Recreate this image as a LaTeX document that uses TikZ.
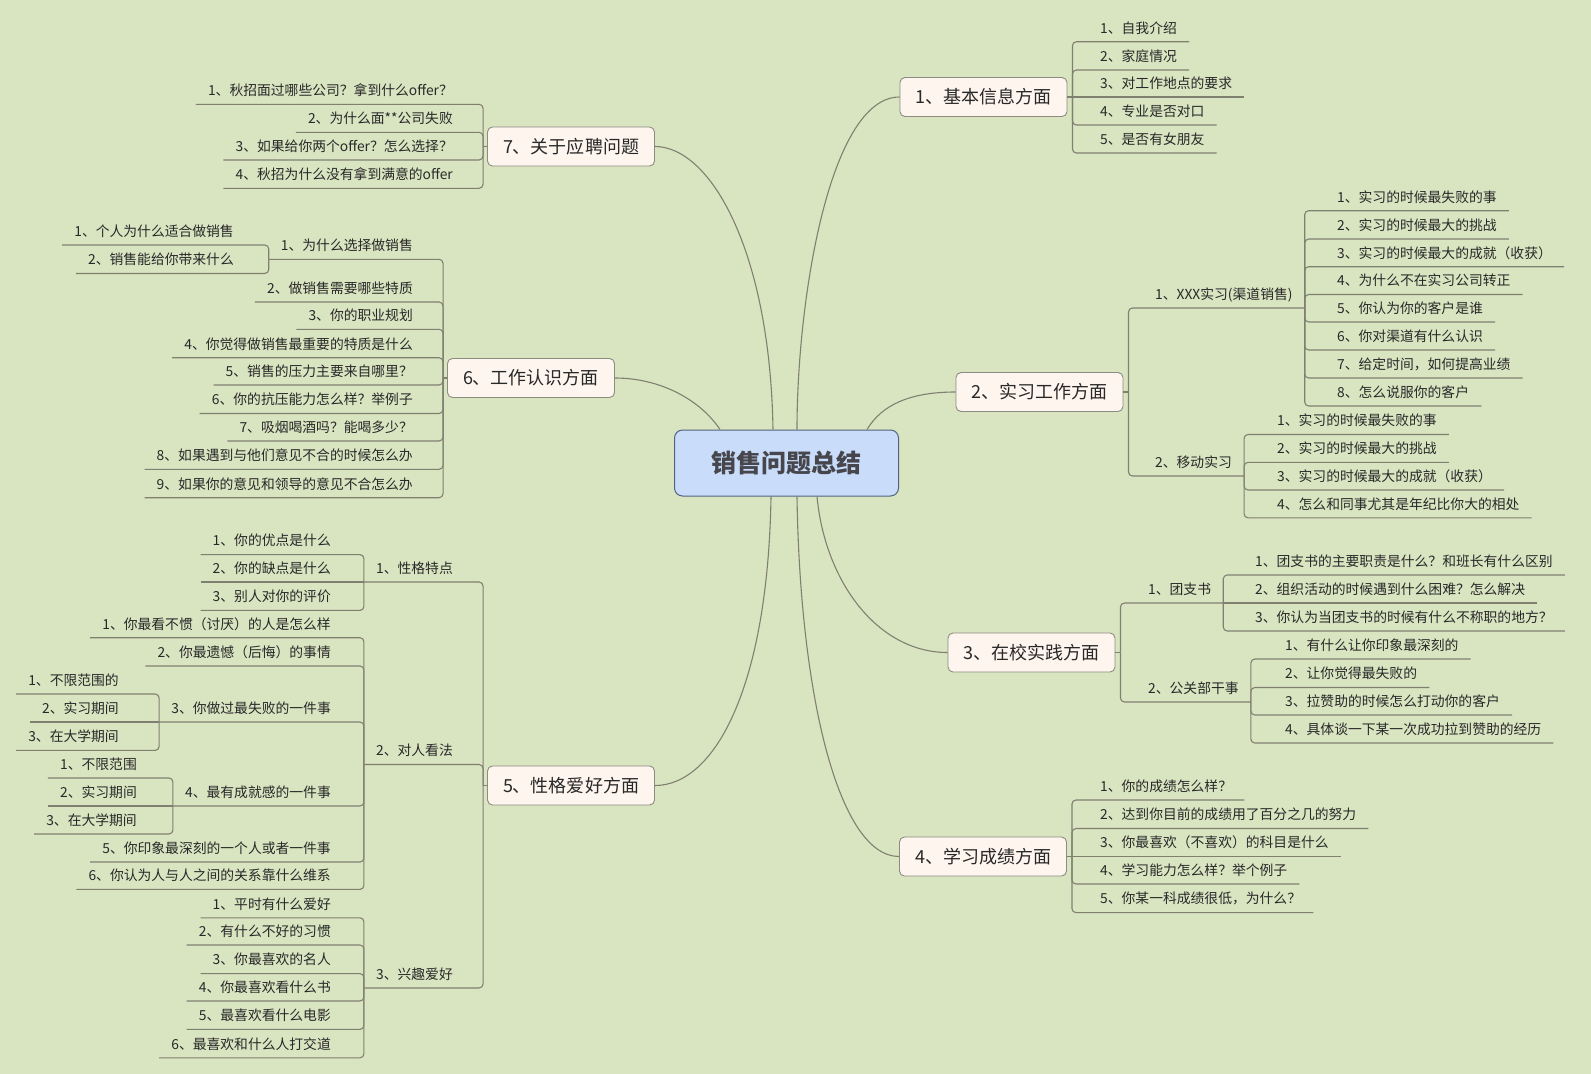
\documentclass[tikz,border=0pt]{standalone}
\usepackage{fontspec}
\setmainfont{Noto Sans CJK SC}
\usepackage{tikz}
\usetikzlibrary{calc}

\definecolor{fond}{RGB}{217,228,193}
\definecolor{boite}{RGB}{253,245,238}
\definecolor{cadre}{RGB}{140,140,128}
\definecolor{trait}{RGB}{128,128,112}
\definecolor{bleu}{RGB}{201,220,250}
\definecolor{bleufonce}{RGB}{80,100,130}
\definecolor{texte}{RGB}{40,40,40}
\definecolor{titre}{RGB}{70,70,76}

\begin{document}
\begin{tikzpicture}[x=1pt,y=-1pt,
  racine/.style={draw=bleufonce,fill=bleu,rounded corners=8pt,line width=1pt,
    minimum width=224pt,minimum height=66pt,text=titre,
    font=\fontsize{25}{28}\selectfont\bfseries},
  branche/.style={draw=cadre,fill=boite,rounded corners=5pt,line width=0.9pt,
    minimum width=167pt,minimum height=39pt,inner xsep=10pt,text=texte,
    font=\fontsize{18}{20}\selectfont},
  leaf/.style={anchor=south west,inner xsep=12pt,inner ysep=5.5pt,
    text height=10pt,text depth=3pt,text=texte,font=\fontsize{13.8}{16}\selectfont},
  leafg/.style={leaf,anchor=south east},
  lien/.style={draw=trait,line width=1.1pt,rounded corners=4pt},
  courbe/.style={draw=trait,line width=1.1pt}]
\fill[fond] (0,0) rectangle (1591,1074);
\useasboundingbox (0,0) rectangle (1591,1074);

% sujet central et branches
\node[racine] (centre) at (786.5,463) {销售问题总结};
\node[branche] (br1) at (983.5,97) {1、基本信息方面};
\node[branche] (br2) at (1039.5,392) {2、实习工作方面};
\node[branche] (br3) at (1031.5,652.5) {3、在校实践方面};
\node[branche] (br4) at (983,856.5) {4、学习成绩方面};
\node[branche] (br5) at (571,785.5) {5、性格爱好方面};
\node[branche] (br6) at (531,378) {6、工作认识方面};
\node[branche] (br7) at (571,146.5) {7、关于应聘问题};

\draw[courbe] ($(centre.north)+(10.5,0)$) .. controls +(0,-130) and +(-70,0) .. (br1.west);
\draw[courbe] ($(centre.north)+(80.5,0)$) .. controls +(15,-25) and +(-45,0) .. (br2.west);
\draw[courbe] ($(centre.south)+(30.5,0)$) .. controls +(8,85) and +(-70,0) .. (br3.west);
\draw[courbe] ($(centre.south)+(10.5,0)$) .. controls +(3,200) and +(-60,0) .. (br4.west);
\draw[courbe] ($(centre.south)+(-15.5,0)$) .. controls +(-3,190) and +(60,0) .. (br5.east);
\draw[courbe] ($(centre.north)+(-66.5,0)$) .. controls +(-20,-30) and +(45,0) .. (br6.east);
\draw[courbe] ($(centre.north)+(-13.5,0)$) .. controls +(-3,-180) and +(55,0) .. (br7.east);

% 1 - informations de base
\coordinate (k1) at ($(br1.east)+(5,0)$);
\node[leaf] (q11) at (1088,41.7) {1、自我介绍};
\node[leaf] (q12) at (1088,70) {2、家庭情况};
\node[leaf] (q13) at (1088,97) {3、对工作地点的要求};
\node[leaf] (q14) at (1088,125) {4、专业是否对口};
\node[leaf] (q15) at (1088,153) {5、是否有女朋友};
\draw[lien] (br1.east) -- (k1);
\draw[lien] (k1) |- (q11.south east);
\draw[lien] (k1) |- (q12.south east);
\draw[lien] (k1) -- (q13.south east);
\draw[lien] (k1) |- (q14.south east);
\draw[lien] (k1) |- (q15.south east);

% 2 - stages
\coordinate (k2) at ($(br2.east)+(5,0)$);
\node[leaf] (s21) at (1143,308) {1、XXX实习(渠道销售)};
\node[leaf] (s22) at (1143,476) {2、移动实习};
\draw[lien] (br2.east) -- (k2);
\draw[lien] (k2) |- (s21.south east);
\draw[lien] (k2) |- (s22.south east);
\node[leaf] (q211) at (1325,210.7) {1、实习的时候最失败的事};
\node[leaf] (q212) at (1325,239) {2、实习的时候最大的挑战};
\node[leaf] (q213) at (1325,266.7) {3、实习的时候最大的成就（收获）};
\node[leaf] (q214) at (1325,294.5) {4、为什么不在实习公司转正};
\node[leaf] (q215) at (1325,322) {5、你认为你的客户是谁};
\node[leaf] (q216) at (1325,350) {6、你对渠道有什么认识};
\node[leaf] (q217) at (1325,378) {7、给定时间，如何提高业绩};
\node[leaf] (q218) at (1325,406) {8、怎么说服你的客户};
\foreach \i in {1,...,8}
  \draw[lien] (s21.south east) |- (q21\i.south east);
\node[leaf] (q221) at (1265,434.5) {1、实习的时候最失败的事};
\node[leaf] (q222) at (1265,462.3) {2、实习的时候最大的挑战};
\node[leaf] (q223) at (1265,490) {3、实习的时候最大的成就（收获）};
\node[leaf] (q224) at (1265,517.8) {4、怎么和同事尤其是年纪比你大的相处};
\foreach \i in {1,...,4}
  \draw[lien] (s22.south east) |- (q22\i.south east);

% 3 - pratique a l'ecole
\coordinate (k3) at ($(br3.east)+(5,0)$);
\node[leaf] (s31) at (1136,603) {1、团支书};
\node[leaf] (s32) at (1136,702) {2、公关部干事};
\draw[lien] (br3.east) -- (k3);
\draw[lien] (k3) |- (s31.south east);
\draw[lien] (k3) |- (s32.south east);
\node[leaf] (q311) at (1243,575) {1、团支书的主要职责是什么？和班长有什么区别};
\node[leaf] (q312) at (1243,603) {2、组织活动的时候遇到什么困难？怎么解决};
\node[leaf] (q313) at (1243,631) {3、你认为当团支书的时候有什么不称职的地方？};
\draw[lien] (s31.south east) |- (q311.south east);
\draw[lien] (s31.south east) -- (q312.south east);
\draw[lien] (s31.south east) |- (q313.south east);
\node[leaf] (q321) at (1273,659) {1、有什么让你印象最深刻的};
\node[leaf] (q322) at (1273,687.5) {2、让你觉得最失败的};
\node[leaf] (q323) at (1273,715) {3、拉赞助的时候怎么打动你的客户};
\node[leaf] (q324) at (1273,743) {4、具体谈一下某一次成功拉到赞助的经历};
\foreach \i in {1,...,4}
  \draw[lien] (s32.south east) |- (q32\i.south east);

% 4 - resultats
\coordinate (k4) at ($(br4.east)+(5,0)$);
\node[leaf] (q41) at (1088,800) {1、你的成绩怎么样？};
\node[leaf] (q42) at (1088,828.5) {2、达到你目前的成绩用了百分之几的努力};
\node[leaf] (q43) at (1088,856.5) {3、你最喜欢（不喜欢）的科目是什么};
\node[leaf] (q44) at (1088,884) {4、学习能力怎么样？举个例子};
\node[leaf] (q45) at (1088,912.6) {5、你某一科成绩很低，为什么？};
\draw[lien] (br4.east) -- (k4);
\draw[lien] (k4) |- (q41.south east);
\draw[lien] (k4) |- (q42.south east);
\draw[lien] (k4) -- (q43.south east);
\draw[lien] (k4) |- (q44.south east);
\draw[lien] (k4) |- (q45.south east);

% 7 - recrutement
\coordinate (k7) at ($(br7.west)+(-4,0)$);
\node[leafg] (q71) at (465,104.3) {1、秋招面过哪些公司？拿到什么offer？};
\node[leafg] (q72) at (465,132.3) {2、为什么面**公司失败};
\node[leafg] (q73) at (465,160) {3、如果给你两个offer？怎么选择？};
\node[leafg] (q74) at (465,188.3) {4、秋招为什么没有拿到满意的offer};
\draw[lien] (br7.west) -- (k7);
\foreach \i in {1,...,4}
  \draw[lien] (k7) |- (q7\i.south west);

% 6 - vision du travail
\coordinate (k6) at ($(br6.west)+(-4,0)$);
\node[leafg] (s61) at (425,259.3) {1、为什么选择做销售};
\node[leafg] (q611) at (246,245) {1、个人为什么适合做销售};
\node[leafg] (q612) at (246,273.5) {2、销售能给你带来什么};
\node[leafg] (q62) at (425,302) {2、做销售需要哪些特质};
\node[leafg] (q63) at (425,329.3) {3、你的职业规划};
\node[leafg] (q64) at (425,357.7) {4、你觉得做销售最重要的特质是什么};
\node[leafg] (q65) at (425,385) {5、销售的压力主要来自哪里？};
\node[leafg] (q66) at (425,413.5) {6、你的抗压能力怎么样？举例子};
\node[leafg] (q67) at (425,441) {7、吸烟喝酒吗？能喝多少？};
\node[leafg] (q68) at (425,469.3) {8、如果遇到与他们意见不合的时候怎么办};
\node[leafg] (q69) at (425,497.7) {9、如果你的意见和领导的意见不合怎么办};
\draw[lien] (br6.west) -- (k6);
\draw[lien] (k6) |- (s61.south west);
\foreach \i in {2,...,9}
  \draw[lien] (k6) |- (q6\i.south west);
\draw[lien] (s61.south west) |- (q611.south west);
\draw[lien] (s61.south west) |- (q612.south west);

% 5 - personnalite et loisirs
\coordinate (k5) at ($(br5.west)+(-4,0)$);
\node[leafg] (s51) at (465,582) {1、性格特点};
\node[leafg] (s52) at (465,764.5) {2、对人看法};
\node[leafg] (s53) at (465,988) {3、兴趣爱好};
\draw[lien] (br5.west) -- (k5);
\draw[lien] (k5) |- (s51.south west);
\draw[lien] (k5) |- (s52.south west);
\draw[lien] (k5) |- (s53.south west);

\node[leafg] (q511) at (343,554.6) {1、你的优点是什么};
\node[leafg] (q512) at (343,582) {2、你的缺点是什么};
\node[leafg] (q513) at (343,610.4) {3、别人对你的评价};
\draw[lien] (s51.south west) |- (q511.south west);
\draw[lien] (s51.south west) -- (q512.south west);
\draw[lien] (s51.south west) |- (q513.south west);

\node[leafg] (q521) at (343,637.7) {1、你最看不惯（讨厌）的人是怎么样};
\node[leafg] (q522) at (343,666) {2、你最遗憾（后悔）的事情};
\node[leafg] (q523) at (343,722) {3、你做过最失败的一件事};
\node[leafg] (q524) at (343,806) {4、最有成就感的一件事};
\node[leafg] (q525) at (343,862) {5、你印象最深刻的一个人或者一件事};
\node[leafg] (q526) at (343,889.4) {6、你认为人与人之间的关系靠什么维系};
\foreach \i in {1,...,6}
  \draw[lien] (s52.south west) |- (q52\i.south west);

\node[leafg] (q5231) at (131,694) {1、不限范围的};
\node[leafg] (q5232) at (131,722) {2、实习期间};
\node[leafg] (q5233) at (131,750.4) {3、在大学期间};
\draw[lien] (q523.south west) |- (q5231.south west);
\draw[lien] (q523.south west) -- (q5232.south west);
\draw[lien] (q523.south west) |- (q5233.south west);

\node[leafg] (q5241) at (149,778) {1、不限范围};
\node[leafg] (q5242) at (149,806) {2、实习期间};
\node[leafg] (q5243) at (149,834) {3、在大学期间};
\draw[lien] (q524.south west) |- (q5241.south west);
\draw[lien] (q524.south west) -- (q5242.south west);
\draw[lien] (q524.south west) |- (q5243.south west);

\node[leafg] (q531) at (343,917.8) {1、平时有什么爱好};
\node[leafg] (q532) at (343,945) {2、有什么不好的习惯};
\node[leafg] (q533) at (343,973.6) {3、你最喜欢的名人};
\node[leafg] (q534) at (343,1001) {4、你最喜欢看什么书};
\node[leafg] (q535) at (343,1029.4) {5、最喜欢看什么电影};
\node[leafg] (q536) at (343,1057.8) {6、最喜欢和什么人打交道};
\foreach \i in {1,...,6}
  \draw[lien] (s53.south west) |- (q53\i.south west);
\end{tikzpicture}
\end{document}
